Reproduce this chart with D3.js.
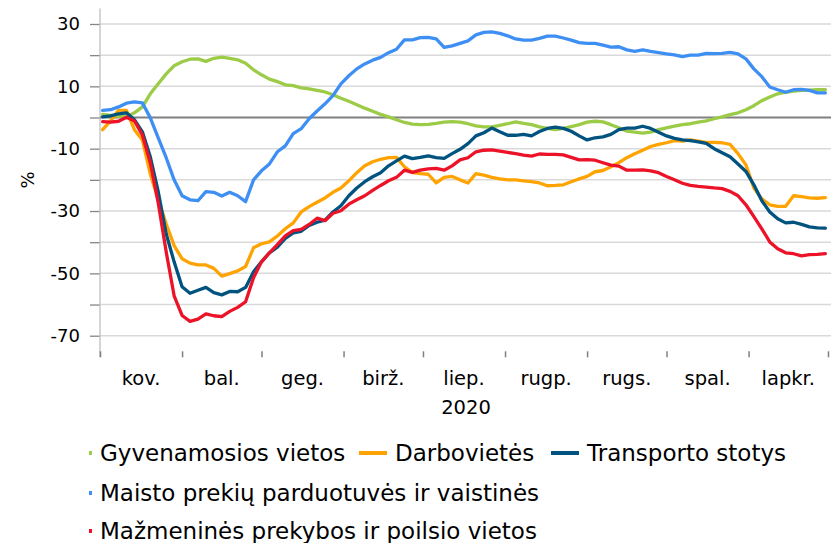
<!DOCTYPE html>
<html>
<head>
<meta charset="utf-8">
<script src="https://cdn.jsdelivr.net/npm/d3@7"></script>
<style>
  body { margin: 0; background: #fff; }
  text { font-family: "DejaVu Sans", sans-serif; fill: #000; }
</style>
</head>
<body>
<svg id="chart" width="837" height="543"></svg>
<script>
// days counted from 1 March 2020
var days = [1, 4, 7, 10, 13, 16, 19, 22, 25, 28, 31, 34, 37, 40, 43, 46, 49, 52, 55, 58,
  61, 64, 67, 70, 73, 76, 79, 82, 85, 88, 91, 94, 97, 100, 103, 106, 109, 112, 115, 118,
  121, 124, 127, 130, 133, 136, 139, 142, 145, 148, 151, 154, 157, 160, 163, 166, 169, 172, 175, 178,
  181, 184, 187, 190, 193, 196, 199, 202, 205, 208, 211, 214, 217, 220, 223, 226, 229, 232, 235, 238,
  241, 244, 247, 250, 253, 256, 259, 262, 265, 268, 271, 274];

var residential = [1.0, 0.7, 0.4, 0.2, 1.5, 3.4, 7.6, 10.8, 14.0, 16.6, 17.9, 18.7, 18.8, 18.0, 19.0, 19.4, 19.0, 18.5, 17.4, 15.3,
  13.7, 12.3, 11.5, 10.5, 10.2, 9.5, 9.2, 8.7, 8.2, 7.3, 6.2, 5.2, 4.1, 3.0, 2.0, 1.0, 0.2, -0.7, -1.6, -2.1,
  -2.3, -2.2, -1.9, -1.5, -1.3, -1.5, -2.0, -2.7, -3.0, -3.0, -2.5, -2.0, -1.4, -1.9, -2.3, -3.0, -3.5, -3.9, -3.5, -2.9,
  -2.3, -1.5, -1.2, -1.4, -2.3, -3.3, -4.4, -4.7, -5.0, -4.7, -3.9, -3.3, -2.8, -2.3, -2.0, -1.5, -1.1, -0.4, 0.2, 0.9,
  1.5, 2.5, 3.8, 5.4, 6.6, 7.6, 8.1, 8.5, 8.7, 8.8, 8.9, 8.9];

var workplaces = [-3.9, -1.1, 2.3, 2.3, -3.9, -7.2, -18.1, -26.4, -34.1, -41.1, -45.3, -46.7, -47.3, -47.3, -48.4, -50.9, -50.1, -49.2, -47.8, -41.8,
  -40.5, -39.9, -38.0, -35.7, -33.8, -30.3, -28.6, -27.2, -25.8, -24.0, -22.6, -20.3, -17.7, -15.5, -14.2, -13.4, -12.9, -12.8, -15.8, -17.7,
  -18.0, -18.2, -21.0, -19.2, -18.9, -20.0, -21.0, -18.0, -18.5, -19.2, -19.7, -20.0, -20.0, -20.3, -20.6, -21.0, -21.9, -21.8, -21.6, -20.6,
  -19.7, -18.9, -17.4, -17.0, -15.8, -14.5, -12.9, -11.6, -10.5, -9.3, -8.6, -8.1, -7.4, -7.6, -7.2, -7.6, -8.0, -8.0, -8.1, -8.6,
  -11.6, -15.2, -22.6, -26.1, -28.0, -28.5, -28.5, -25.1, -25.4, -25.8, -25.9, -25.7];

var transit = [0.2, 0.5, 1.2, 1.5, -0.7, -4.6, -12.6, -23.8, -37.3, -46.3, -54.3, -56.4, -55.4, -54.5, -56.2, -56.9, -55.8, -55.9, -54.5, -49.5,
  -46.3, -43.4, -41.6, -38.8, -37.0, -36.5, -34.6, -33.6, -32.9, -30.3, -28.3, -25.1, -22.6, -20.6, -19.0, -17.7, -15.5, -13.9, -12.4, -13.2,
  -12.8, -12.3, -12.9, -13.1, -11.6, -10.2, -8.4, -5.9, -4.9, -3.4, -4.6, -5.7, -5.7, -5.4, -5.9, -4.5, -3.5, -3.1, -3.5, -4.4,
  -5.9, -7.2, -6.5, -6.2, -5.4, -3.9, -3.4, -3.4, -2.8, -3.5, -4.7, -5.9, -6.7, -7.2, -7.4, -7.8, -8.3, -10.0, -11.3, -12.6,
  -14.9, -17.3, -21.6, -26.7, -30.3, -32.5, -33.8, -33.6, -34.3, -35.1, -35.4, -35.5];

var grocery = [2.3, 2.5, 3.4, 4.6, 5.0, 4.7, -0.1, -6.5, -12.9, -20.0, -25.1, -26.4, -26.7, -23.8, -24.0, -25.2, -24.0, -25.1, -27.0, -20.0,
  -17.1, -14.9, -11.0, -9.1, -5.2, -3.6, -0.4, 2.1, 4.4, 7.0, 10.8, 13.4, 15.6, 17.2, 18.4, 19.3, 20.8, 21.9, 24.9, 24.9,
  25.6, 25.7, 25.2, 22.5, 23.0, 23.8, 24.6, 26.5, 27.3, 27.5, 27.0, 26.2, 25.2, 24.8, 24.8, 25.4, 26.1, 26.1, 25.5, 24.8,
  24.0, 23.8, 23.8, 23.2, 22.6, 22.7, 21.7, 21.2, 21.7, 21.2, 20.8, 20.4, 20.1, 19.5, 20.0, 20.0, 20.6, 20.5, 20.6, 20.9,
  20.4, 18.8, 15.6, 13.1, 9.8, 8.9, 8.1, 8.9, 9.0, 8.7, 7.9, 7.9];

var retail = [-1.3, -1.5, -1.2, 0.1, -1.1, -5.6, -14.5, -27.4, -43.1, -57.2, -63.5, -65.4, -64.7, -63.0, -63.6, -63.9, -62.2, -60.9, -59.1, -51.4,
  -46.3, -43.4, -40.8, -38.0, -36.3, -35.9, -34.3, -32.3, -33.1, -30.7, -29.9, -27.8, -26.4, -25.1, -23.4, -21.8, -20.3, -19.2, -16.9, -17.6,
  -16.9, -16.5, -16.3, -16.9, -15.5, -13.6, -12.9, -11.0, -10.5, -10.4, -10.8, -11.2, -11.6, -12.1, -12.4, -11.7, -11.8, -11.8, -12.0, -12.8,
  -13.6, -13.5, -13.7, -14.5, -15.3, -15.6, -16.9, -16.9, -16.8, -17.1, -17.7, -18.9, -20.0, -21.1, -21.8, -22.1, -22.3, -22.6, -22.8, -23.7,
  -25.1, -28.0, -31.8, -35.7, -39.9, -42.1, -43.4, -43.7, -44.4, -44.0, -43.9, -43.7];

var monthLabels = ["kov.", "bal.", "geg.", "birž.", "liep.", "rugp.", "rugs.", "spal.", "lapkr."];
var yearLabel = "2020";
var yTicks = [-70, -60, -50, -40, -30, -20, -10, 0, 10, 20, 30];
var yLabelTicks = [-70, -50, -30, -10, 10, 30];

var series = [
  { name: "Gyvenamosios vietos", values: residential, color: "#9ccb47" },
  { name: "Darbovietės", values: workplaces, color: "#ffa300" },
  { name: "Transporto stotys", values: transit, color: "#00527f" },
  { name: "Maisto prekių parduotuvės ir vaistinės", values: grocery, color: "#3e8ff4" },
  { name: "Mažmeninės prekybos ir poilsio vietos", values: retail, color: "#ec1228" }
];

var start = new Date(Date.UTC(2020, 2, 1));
var end = new Date(Date.UTC(2020, 11, 1));
function dayDate(d) { return d3.utcDay.offset(start, d); }

var svg = d3.select("#chart");
var plotL = 100, plotR = 828, plotT = 8.4, plotB = 351.3, gridR = 831;

var x = d3.scaleUtc().domain([start, end]).range([plotL, plotR]);
var y = d3.scaleLinear().domain([-75, 35]).range([plotB, plotT]);

// grid lines
svg.append("g")
  .selectAll("line")
  .data(yTicks.filter(function (t) { return t !== 0; }))
  .enter().append("line")
  .attr("x1", plotL).attr("x2", gridR)
  .attr("y1", function (d) { return y(d); })
  .attr("y2", function (d) { return y(d); })
  .attr("stroke", "#d9d9d9")
  .attr("stroke-width", 1.5);

// y axis
var yAxis = svg.append("g")
  .attr("transform", "translate(" + plotL + ",0)")
  .call(d3.axisLeft(y).tickValues(yTicks).tickSize(10)
    .tickFormat(function (d) { return yLabelTicks.indexOf(d) >= 0 ? d : ""; }));
yAxis.select(".domain").remove();
yAxis.selectAll(".tick line").attr("stroke", "#868686").attr("stroke-width", 1.3);
yAxis.selectAll(".tick text")
  .attr("x", -20)
  .style("font-size", "18px")
  .style("font-family", "DejaVu Sans");
svg.append("line")
  .attr("x1", plotL).attr("x2", plotL)
  .attr("y1", plotT).attr("y2", 357)
  .attr("stroke", "#bfbfbf").attr("stroke-width", 1.3);

// x axis ticks at month starts
var months = d3.utcMonth.range(start, d3.utcDay.offset(end, 1));
var xAxis = svg.append("g")
  .attr("transform", "translate(0," + plotB + ")")
  .call(d3.axisBottom(x).tickValues(months).tickSize(6).tickFormat(""));
xAxis.select(".domain").remove();
xAxis.selectAll(".tick line").attr("stroke", "#7f7f7f").attr("stroke-width", 1.5);

svg.append("g")
  .selectAll("text")
  .data(monthLabels)
  .enter().append("text")
  .attr("x", function (d, i) { return (x(months[i]) + x(months[i + 1])) / 2; })
  .attr("y", 385)
  .attr("text-anchor", "middle")
  .style("font-size", "19.5px")
  .text(function (d) { return d; });

svg.append("text")
  .attr("x", (plotL + plotR) / 2 + 2)
  .attr("y", 414)
  .attr("text-anchor", "middle")
  .style("font-size", "19.5px")
  .text(yearLabel);

svg.append("text")
  .attr("transform", "translate(34," + y(-20) + ") rotate(-90)")
  .attr("text-anchor", "middle")
  .style("font-size", "18px")
  .text("%");

// zero line
svg.append("line")
  .attr("x1", plotL).attr("x2", gridR)
  .attr("y1", y(0)).attr("y2", y(0))
  .attr("stroke", "#808080")
  .attr("stroke-width", 2);

var line = d3.line()
  .x(function (d) { return x(dayDate(d[0])); })
  .y(function (d) { return y(d[1]); });

svg.append("g")
  .selectAll("path")
  .data(series)
  .enter().append("path")
  .attr("d", function (s) { return line(days.map(function (d, i) { return [d, s.values[i]]; })); })
  .attr("fill", "none")
  .attr("stroke", function (s) { return s.color; })
  .attr("stroke-width", 3.3)
  .attr("stroke-linejoin", "round")
  .attr("stroke-linecap", "round");

// legend (left column swatches are clipped at the chart edge, as in the original)
svg.append("defs").append("clipPath").attr("id", "legclip")
  .append("rect").attr("x", 89).attr("y", 420).attr("width", 748).attr("height", 123);

var legendPos = [
  { x: 100, y: 453 }, { x: 395, y: 453 }, { x: 587, y: 453 },
  { x: 100, y: 493 }, { x: 100, y: 531 }
];
var legend = svg.append("g")
  .attr("clip-path", "url(#legclip)")
  .selectAll("g")
  .data(series)
  .enter().append("g")
  .attr("transform", function (d, i) { return "translate(" + legendPos[i].x + "," + legendPos[i].y + ")"; });
legend.append("line")
  .attr("x1", -36).attr("x2", -8)
  .attr("y1", 0).attr("y2", 0)
  .attr("stroke", function (d) { return d.color; })
  .attr("stroke-width", 4);
legend.append("text")
  .attr("x", 0)
  .attr("dy", "0.35em")
  .style("font-size", "23px")
  .text(function (d) { return d.name; });
</script>
</body>
</html>
